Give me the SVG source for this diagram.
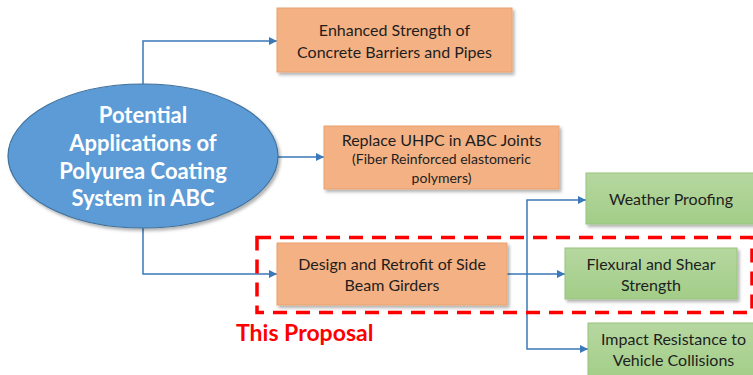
<svg xmlns="http://www.w3.org/2000/svg" width="753" height="375" viewBox="0 0 753 375">
  <defs>
    <filter id="shadow" x="-10%" y="-10%" width="130%" height="140%">
      <feDropShadow dx="2" dy="2.5" stdDeviation="1.5" flood-color="#000" flood-opacity="0.3"/>
    </filter>
    <linearGradient id="greenFill" x1="0" y1="0" x2="0" y2="1">
      <stop offset="0" stop-color="#B6D7A0"/>
      <stop offset="1" stop-color="#A2CD87"/>
    </linearGradient>
    <marker id="arrow" viewBox="0 0 10 10" refX="10" refY="5" markerWidth="8" markerHeight="8" markerUnits="userSpaceOnUse" orient="auto">
      <path d="M0,0 L10,5 L0,10 z" fill="#3A78B9"/>
    </marker>
    <style>
      .orange { fill: #F4B183; stroke: #E9A26F; stroke-width: 1; }
      .green { fill: url(#greenFill); stroke: #98C47C; stroke-width: 1; }
      .label { font-family: Lato, "Open Sans", sans-serif; font-size: 16px; fill: #1E1E1E; text-anchor: middle; }
      .small { font-size: 14px; }
      .hub { font-family: Lato, "Open Sans", sans-serif; font-size: 22px; font-weight: bold; fill: #FFFFFF; text-anchor: middle; }
      .wire { fill: none; stroke: #3A78B9; stroke-width: 1.5; }
      .frame { fill: none; stroke: #FF0000; stroke-width: 3.5; stroke-dasharray: 14 9; }
      .tag { font-family: Lato, "Open Sans", sans-serif; font-size: 23px; font-weight: bold; fill: #FF0000; }
    </style>
  </defs>

  <rect width="753" height="375" fill="#FFFFFF"/>

  <!-- connectors -->
  <g id="connectors">
    <path class="wire" d="M143,84 V41 H277" marker-end="url(#arrow)"/>
    <path class="wire" d="M277,157 H324" marker-end="url(#arrow)"/>
    <path class="wire" d="M143,227 V274 H277" marker-end="url(#arrow)"/>
    <path class="wire" d="M507,274 H565" marker-end="url(#arrow)"/>
    <path class="wire" d="M527,274 V200 H586" marker-end="url(#arrow)"/>
    <path class="wire" d="M527,274 V349 H588" marker-end="url(#arrow)"/>
  </g>

  <!-- central ellipse -->
  <g id="hub">
    <ellipse cx="143" cy="156" rx="135" ry="72" fill="#5B9BD5" stroke="#41719C" stroke-width="1.2" filter="url(#shadow)"/>
    <text class="hub" x="143" y="123">Potential</text>
    <text class="hub" x="143" y="151">Applications of</text>
    <text class="hub" x="143" y="179">Polyurea Coating</text>
    <text class="hub" x="143" y="206">System in ABC</text>
  </g>

  <g id="barriers">
    <rect class="orange" x="277" y="8" width="235" height="64" filter="url(#shadow)"/>
    <text class="label" x="394.5" y="35.5">Enhanced Strength of</text>
    <text class="label" x="394.5" y="57.5">Concrete Barriers and Pipes</text>
  </g>

  <g id="joints">
    <rect class="orange" x="324" y="126" width="235" height="63" filter="url(#shadow)"/>
    <text class="label" x="441.5" y="145.5">Replace UHPC in ABC Joints</text>
    <text class="label small" x="441.5" y="164">(Fiber Reinforced elastomeric</text>
    <text class="label small" x="441.5" y="183">polymers)</text>
  </g>

  <g id="girders">
    <rect class="orange" x="277" y="243" width="230" height="62" filter="url(#shadow)"/>
    <text class="label" x="392" y="269.5">Design and Retrofit of Side</text>
    <text class="label" x="392" y="290.5">Beam Girders</text>
  </g>

  <g id="weather">
    <rect class="green" x="586" y="173" width="175" height="51" filter="url(#shadow)"/>
    <text class="label" x="671" y="205">Weather Proofing</text>
  </g>

  <g id="flexural">
    <rect class="green" x="565" y="248" width="172" height="51" filter="url(#shadow)"/>
    <text class="label" x="651" y="269.5">Flexural and Shear</text>
    <text class="label" x="651" y="290.5">Strength</text>
  </g>

  <g id="impact">
    <rect class="green" x="588" y="323" width="175" height="60" filter="url(#shadow)"/>
    <text class="label" x="673.5" y="344.5">Impact Resistance to</text>
    <text class="label" x="673.5" y="365.5">Vehicle Collisions</text>
  </g>

  <!-- highlighted proposal area -->
  <g id="proposal">
    <rect class="frame" x="257" y="237.5" width="495" height="75"/>
    <text class="tag" x="236" y="341">This Proposal</text>
  </g>
</svg>
